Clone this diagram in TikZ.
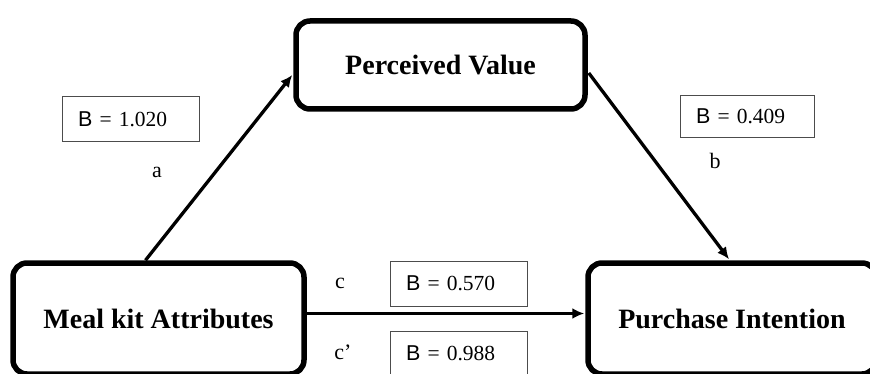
\documentclass[tikz,border=0pt]{standalone}
\usepackage{fontspec}
\setmainfont{Liberation Serif}
\newfontfamily\arialf{Liberation Sans}
\usetikzlibrary{arrows.meta,calc}
\tikzset{
  mainbox/.style={draw=black, line width=5.5pt, rounded corners=14pt, fill=white,
    font=\fontsize{28}{32}\selectfont\bfseries, inner sep=0pt},
  bbox/.style={draw=black!70, line width=1pt, fill=white, minimum height=45pt,
    inner xsep=16pt, inner ysep=0pt, align=left, font=\fontsize{21.5}{24}\selectfont},
  lbl/.style={font=\fontsize{22}{26}\selectfont, inner sep=0pt},
  conn/.style={line width=3.3pt, -{Latex[length=12pt,width=11pt]}}
}
\newcommand{\Bval}[1]{{\arialf B} = #1}
\begin{document}
\begin{tikzpicture}[x=1pt,y=-1pt]
\useasboundingbox (0,0) rectangle (870,374);
\clip (0,0) rectangle (870,374);
\fill[white] (0,0) rectangle (870,374);
\node[mainbox, minimum width=289pt, minimum height=88pt] (pv) at (440.5,65) {Perceived Value};
\node[mainbox, minimum width=291pt, minimum height=111pt] (mka) at (158.5,318.5) {Meal kit Attributes};
\node[mainbox, minimum width=288pt, minimum height=111pt] (pi) at (732,318.5) {Purchase Intention};

\node[bbox, text width=105pt] (b1) at (130.5,119.5) {\Bval{1.020}};
\node[bbox, text width=102pt, minimum height=42pt] (b2) at (747,116.5) {\Bval{0.409}};
\node[bbox, text width=105pt] (b3) at (458.5,283.5) {\Bval{0.570}};
\node[bbox, text width=105pt] (b4) at (458.5,353.5) {\Bval{0.988}};

\node[lbl] (la) at (157,172) {a};
\node[lbl] (lb) at (715,161) {b};
\node[lbl] (lc) at (340,283) {c};
\node[lbl] (lcp) at (343,352) {c’};

\draw[conn] ($(mka.north)+(-13,0)$) -- ($(pv.west)+(-1,10)$);
\draw[conn] ($(pv.east)+(1,8)$) -- ($(pi.north)+(-3,-1)$);
\draw[conn] ($(mka.east)+(0,-5)$) -- ($(pi.west)+(-1,-5)$);
\end{tikzpicture}
\end{document}
